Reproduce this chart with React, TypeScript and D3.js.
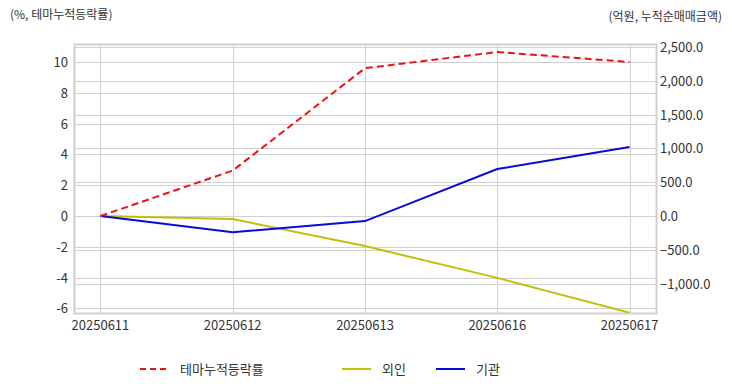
import React from "react";
import * as d3 from "d3";

const dates = ["20250611", "20250612", "20250613", "20250616", "20250617"];
const themeRate = [0, 2.95, 9.6, 10.65, 10.0];
const foreign = [0, -45, -445, -915, -1430];
const institution = [0, -240, -75, 695, 1020];
const leftTicks = [-6, -4, -2, 0, 2, 4, 6, 8, 10];
const rightTicks = [-1000, -500, 0, 500, 1000, 1500, 2000, 2500];

const W = 732;
const H = 392;
const FONT = "'Noto Sans CJK KR', 'Noto Sans', sans-serif";

export default function App() {
    const left = 74, right = 656, top = 44, bottom = 313;
    const x = d3.scalePoint<string>().domain(dates).range([left, right]).padding(0.2);
    const yL = d3.scaleLinear().domain([-6.3, 11.17]).range([bottom, top]);
    const yR = d3.scaleLinear().domain([-1435, 2545]).range([bottom, top]);

    const lineL = d3.line<number>().x((_, i) => x(dates[i])!).y((d) => yL(d));
    const lineR = d3.line<number>().x((_, i) => x(dates[i])!).y((d) => yR(d));
    const fmtR = d3.format(",.1f");

    const RED = "#ee1111", YEL = "#c2bf0a", BLUE = "#0a0ad8", GRID = "#d0d0d0";

    return (
        <svg width={W} height={H} style={{ position: "absolute", left: 0, top: 0 }} fontFamily={FONT}>
            <rect x={0} y={0} width={W} height={H} fill="white" />
            <text x={10} y={19} fontSize={12} fill="#333">(%, 테마누적등락률)</text>
            <text x={722} y={21} fontSize={12} fill="#333" textAnchor="end">(억원, 누적순매매금액)</text>

            <g stroke={GRID} strokeWidth={1}>
                {leftTicks.map((t) => (
                    <line key={"l" + t} x1={left} x2={right} y1={Math.round(yL(t)) + 0.5} y2={Math.round(yL(t)) + 0.5} />
                ))}
                {rightTicks.map((t) => (
                    <line key={"r" + t} x1={left} x2={right} y1={Math.round(yR(t)) + 0.5} y2={Math.round(yR(t)) + 0.5} />
                ))}
                {dates.map((d) => (
                    <line key={d} x1={Math.round(x(d)!) + 0.5} x2={Math.round(x(d)!) + 0.5} y1={top} y2={bottom} />
                ))}
            </g>
            <rect x={left + 0.5} y={top + 0.5} width={right - left} height={bottom - top} fill="none" stroke={GRID} strokeWidth={2} />

            <g fontSize={13} fill="#333">
                {leftTicks.map((t) => (
                    <text key={t} x={68} y={yL(t) + 5} textAnchor="end">{t}</text>
                ))}
                {rightTicks.map((t) => (
                    <text key={t} x={660} y={yR(t) + 5}>{fmtR(t)}</text>
                ))}
                {dates.map((d) => (
                    <text key={d} x={x(d)!} y={330} textAnchor="middle">{d}</text>
                ))}
            </g>

            <defs>
                <clipPath id="plot">
                    <rect x={left} y={top} width={right - left} height={bottom - top} />
                </clipPath>
            </defs>
            <g fill="none" strokeWidth={2} clipPath="url(#plot)">
                <path d={lineR(foreign) ?? undefined} stroke={YEL} />
                <path d={lineR(institution) ?? undefined} stroke={BLUE} />
                <path d={lineL(themeRate) ?? undefined} stroke={RED} strokeDasharray="7,4" />
            </g>

            <g fontSize={13} fill="#333">
                <line x1={140} x2={168} y1={369} y2={369} stroke={RED} strokeWidth={2} strokeDasharray="6,4" />
                <text x={180} y={374}>테마누적등락률</text>
                <line x1={342} x2={371} y1={369} y2={369} stroke={YEL} strokeWidth={2} />
                <text x={382} y={374}>외인</text>
                <line x1={436} x2={465} y1={369} y2={369} stroke={BLUE} strokeWidth={2} />
                <text x={476} y={374}>기관</text>
            </g>
        </svg>
    );
}
